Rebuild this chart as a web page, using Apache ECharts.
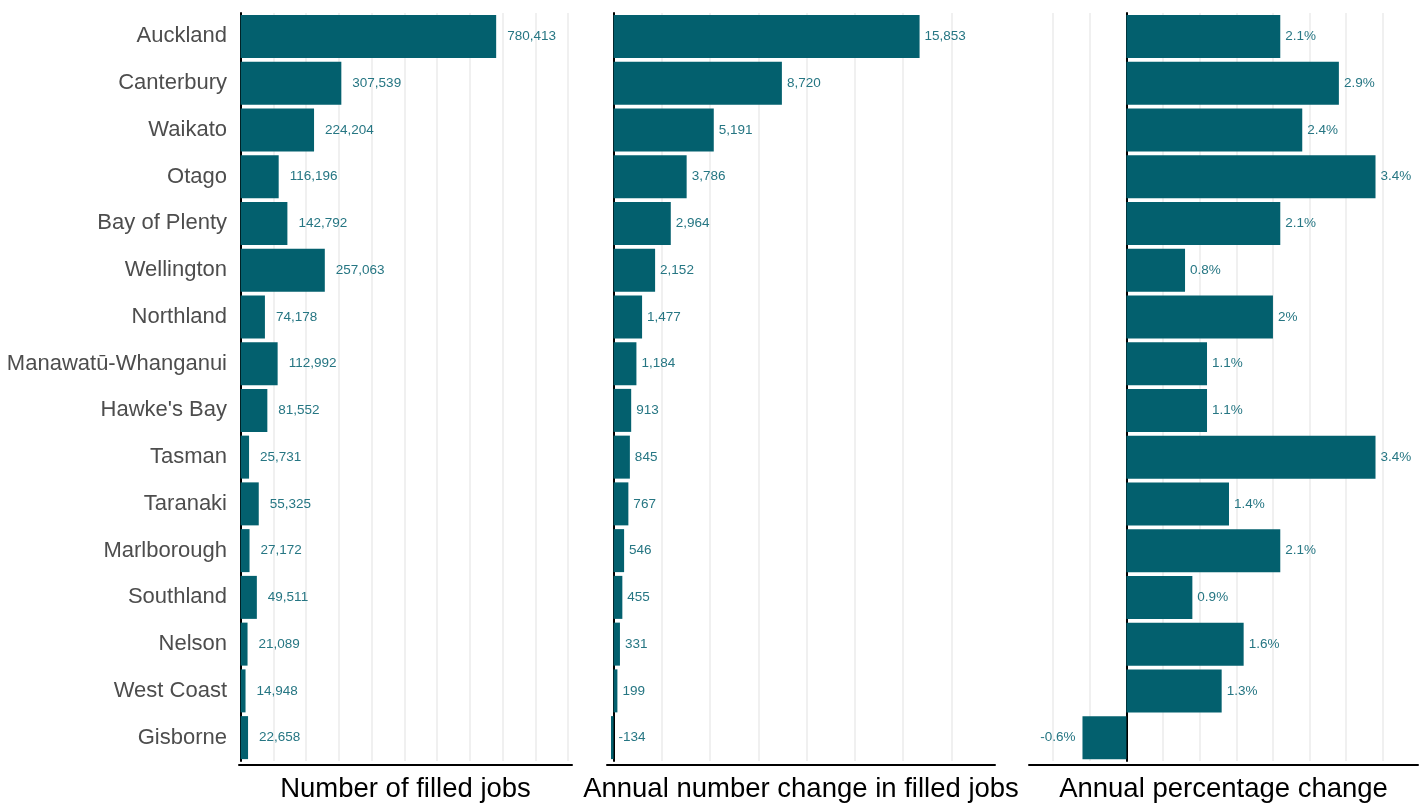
<!DOCTYPE html>
<html>
<head>
<meta charset="utf-8">
<title>Filled jobs by region</title>
<script src="https://cdn.jsdelivr.net/npm/echarts@6/dist/echarts.min.js"></script>
<style>
    html, body { margin: 0; padding: 0; background: #fff; }
    #chart { width: 1426px; height: 805px; }
</style>
</head>
<body>
<div id="chart"></div>
<script>
var regions = ['Auckland', 'Canterbury', 'Waikato', 'Otago', 'Bay of Plenty', 'Wellington', 'Northland',
    'Manawatū-Whanganui', "Hawke's Bay", 'Tasman', 'Taranaki', 'Marlborough', 'Southland', 'Nelson',
    'West Coast', 'Gisborne'];
var filledJobs = [780413, 307539, 224204, 116196, 142792, 257063, 74178, 112992, 81552, 25731, 55325,
    27172, 49511, 21089, 14948, 22658];
var annualChange = [15853, 8720, 5191, 3786, 2964, 2152, 1477, 1184, 913, 845, 767, 546, 455, 331, 199, -134];
var annualPct = [2.1, 2.9, 2.4, 3.4, 2.1, 0.8, 2.0, 1.1, 1.1, 3.4, 1.4, 2.1, 0.9, 1.6, 1.3, -0.6];

// vertical grid lines of each panel
var jobsGrid = [100000, 200000, 300000, 400000, 500000, 600000, 700000, 800000, 900000, 1000000];
var changeGrid = [2500, 5000, 7500, 10000, 12500, 15000, 17500];
var pctGrid = [-1, -0.5, 0.5, 1, 1.5, 2, 2.5, 3, 3.5];

var barColor = '#03606e';
var labelColor = '#267683';
var font = "'Liberation Sans', Arial, sans-serif";

function fmtNum(v) {
    return Number(v).toLocaleString('en-US');
}

function gridLines(values) {
    return {
        silent: true,
        z: 1,
        symbol: 'none',
        animation: false,
        label: { show: false },
        lineStyle: { color: '#ebebeb', width: 1.5, type: 'solid' },
        data: values.map(function (v) { return { xAxis: v }; })
    };
}

function catAxis(idx, showLabels) {
    return {
        type: 'category',
        gridIndex: idx,
        data: regions,
        inverse: true,
        axisLine: { show: true, onZero: true, lineStyle: { color: '#000', width: 2 } },
        axisTick: { show: false },
        axisLabel: {
            show: showLabels,
            color: '#4d4d4d',
            fontSize: 22,
            fontFamily: font,
            margin: 12
        }
    };
}

function valAxis(idx, min, max, name) {
    return {
        type: 'value',
        gridIndex: idx,
        min: min,
        max: max,
        offset: 4,
        name: name,
        nameLocation: 'middle',
        nameGap: 10,
        nameTextStyle: { color: '#000', fontSize: 27.5, fontFamily: font, verticalAlign: 'top' },
        axisLine: { show: true, lineStyle: { color: '#000', width: 2 } },
        axisTick: { show: false },
        axisLabel: { show: false },
        splitLine: { show: false }
    };
}

function barSeries(idx, data, dist, fmt, grid) {
    return {
        type: 'bar',
        xAxisIndex: idx,
        yAxisIndex: idx,
        barWidth: 43,
        itemStyle: { color: barColor },
        label: {
            show: true,
            position: 'right',
            distance: dist,
            color: labelColor,
            fontSize: 13.5,
            fontFamily: font,
            formatter: function (p) { return fmt(p.value); }
        },
        data: data,
        markLine: gridLines(grid)
    };
}

var myChart = echarts.init(document.getElementById('chart'));
var option = {
    animation: false,
    grid: [
        { left: 239, width: 333, top: 13, bottom: 44, outerBoundsMode: 'none' },
        { left: 607, width: 388, top: 13, bottom: 44, outerBoundsMode: 'none' },
        { left: 1029, width: 389, top: 13, bottom: 44, outerBoundsMode: 'none' }
    ],
    yAxis: [catAxis(0, true), catAxis(1, false), catAxis(2, false)],
    xAxis: [
        valAxis(0, -5000, 1012000, 'Number of filled jobs'),
        valAxis(1, -340, 19760, 'Annual number change in filled jobs'),
        valAxis(2, -1.33, 3.98, 'Annual percentage change')
    ],
    series: [
        barSeries(0, filledJobs, 11, fmtNum, jobsGrid),
        barSeries(1, annualChange, 5, fmtNum, changeGrid),
        barSeries(2, annualPct.map(function (v) {
            return v < 0 ? { value: v, label: { position: 'left', distance: 7 } } : v;
        }), 5, function (v) { return v + '%'; }, pctGrid)
    ]
};
myChart.setOption(option);
</script>
</body>
</html>
